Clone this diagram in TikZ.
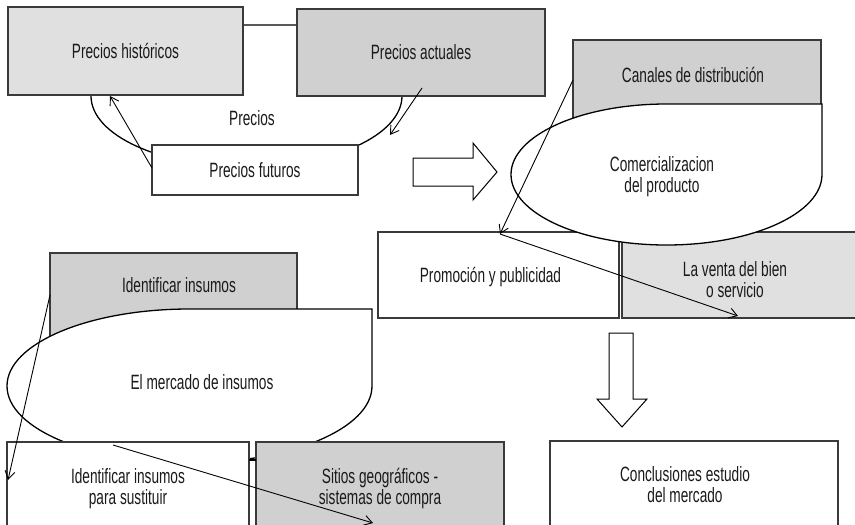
\documentclass[tikz,border=0pt]{standalone}
\usepackage{fontspec}
\setmainfont{Liberation Sans}[FakeStretch=0.66]
\usetikzlibrary{arrows.meta,calc,shapes.geometric}

\definecolor{grayA}{HTML}{E0E0E0}
\definecolor{grayB}{HTML}{D0D0D0}
\definecolor{edgegray}{HTML}{3A3A3A}
\definecolor{ink}{HTML}{1A1A1A}

% oval with a squared upper-right corner, drawn around a helper ellipse node
\newcommand\drawtabbed[3]{%
  \draw[tabline] (#1.north) -| (#1.east)
    arc[start angle=0, end angle=-270, x radius=#2, y radius=#3] -- cycle;}

\begin{document}
\begin{tikzpicture}[x=1pt,y=-1pt,
  every node/.style={font=\fontsize{20.7}{21}\selectfont, align=center,
    inner sep=0pt, outer sep=0pt, text=ink},
  box/.style={draw=edgegray, line width=1.1pt, rectangle},
  oval/.style={ellipse, inner sep=0pt, outer sep=0pt},
  tabline/.style={draw=black, fill=white, line width=1.3pt},
  conn/.style={draw=black, line width=0.9pt, -{Straight Barb[length=8pt,width=10pt]}},
  linkline/.style={draw=black, line width=1.4pt},
  blockarrow/.style={draw=black, fill=white, line width=1pt, line join=miter}]

\path[use as bounding box] (0,0) rectangle (855,525);
\clip (0,0) rectangle (855,525);
\fill[white] (0,0) rectangle (855,525);

% ---------- Precios ----------
\node[oval, minimum width=311pt, minimum height=142pt] (precios) at (246.5,96) {};
\drawtabbed{precios}{155.5pt}{71pt}
\node (precios-txt) at (252,118) {Precios};

\node[box, fill=grayA, minimum width=235pt, minimum height=88pt] (hist) at (125.5,51) {Precios históricos};
\node[box, fill=grayB, minimum width=248pt, minimum height=87pt] (actu) at (421,52.5) {Precios actuales};
\node[box, fill=white, minimum width=206pt, minimum height=50pt] (fut) at (255,170) {Precios futuros};

\coordinate (p1) at ($(fut.north west)+(0,23)$);
\coordinate (p2) at ($(hist.south west)+(102,1)$);
\draw[conn] (p1) -- (p2);
\coordinate (p3) at ($(actu.south east)+(-123,-8)$);
\coordinate (p4) at ($(fut.north east)+(32,-10)$);
\draw[conn] (p3) -- (p4);

% block arrow to the right
\draw[blockarrow] (413,158) -- (473,158) -- (473,143) -- (497,172)
  -- (473,200) -- (473,186) -- (413,186) -- cycle;

% ---------- Comercializacion ----------
\node[box, fill=grayB, minimum width=248pt, minimum height=90pt,
  label={[xshift=-4pt, yshift=10pt]center:Canales de distribución}] (canales) at (697,85) {};
\node[box, fill=white, minimum width=241pt, minimum height=86pt,
  label={[xshift=-8pt, yshift=-2pt]center:Promoción y publicidad}] (promo) at (498.5,275) {};
\node[box, fill=grayA, minimum width=236pt, minimum height=86pt,
  label={[xshift=-5pt, yshift=-5pt]center:La venta del bien\\o servicio}] (venta) at (740,275) {};

\node[oval, minimum width=311pt, minimum height=141pt] (comerc) at (666.5,174.5) {};
\drawtabbed{comerc}{155.5pt}{70.5pt}
\node (comerc-txt) at (662,177) {Comercializacion\\del producto};

\coordinate (q1) at ($(canales.north west)+(0,40)$);
\coordinate (q2) at ($(promo.north west)+(122,2)$);
\coordinate (q3) at ($(venta.south west)+(116,-2)$);
\draw[conn] (q1) -- (q2);
\draw[conn] (q2) -- (q3);

% block arrow downwards
\draw[blockarrow] (609,333) -- (633,333) -- (633,399) -- (647,399)
  -- (622,427) -- (597,399) -- (609,399) -- cycle;

% ---------- Insumos ----------
\node[box, fill=grayB, minimum width=247pt, minimum height=92pt,
  label={[xshift=5.5pt, yshift=14pt]center:Identificar insumos}] (ident) at (173.5,299) {};

\node[oval, minimum width=365pt, minimum height=154pt] (mercado) at (189.5,386) {};
\drawtabbed{mercado}{182.5pt}{77pt}
\node (mercado-txt) at (202,382) {El mercado de insumos};

\node[box, fill=white, minimum width=242pt, minimum height=94pt] (sust) at (128,489)
  {Identificar insumos\\para sustituir};
\node[box, fill=grayB, minimum width=248pt, minimum height=94pt] (sitios) at (380,489)
  {Sitios geográficos -\\sistemas de compra};
\draw[linkline] ($(sust.north east)+(0,18)$) -- ($(sitios.north west)+(0,18)$);

\coordinate (r1) at ($(ident.north west)+(0,42)$);
\coordinate (r2) at ($(sust.north west)+(1,38)$);
\draw[conn] (r1) -- (r2);
\coordinate (r3) at ($(sust.north west)+(106,3)$);
\coordinate (r4) at ($(sitios.north west)+(117,81)$);
\draw[conn] (r3) -- (r4);

% ---------- Conclusiones ----------
\node[box, fill=white, minimum width=288pt, minimum height=94pt,
  label={[xshift=-9pt, yshift=3pt]center:Conclusiones estudio\\del mercado}] (concl) at (694,488) {};

\end{tikzpicture}
\end{document}
